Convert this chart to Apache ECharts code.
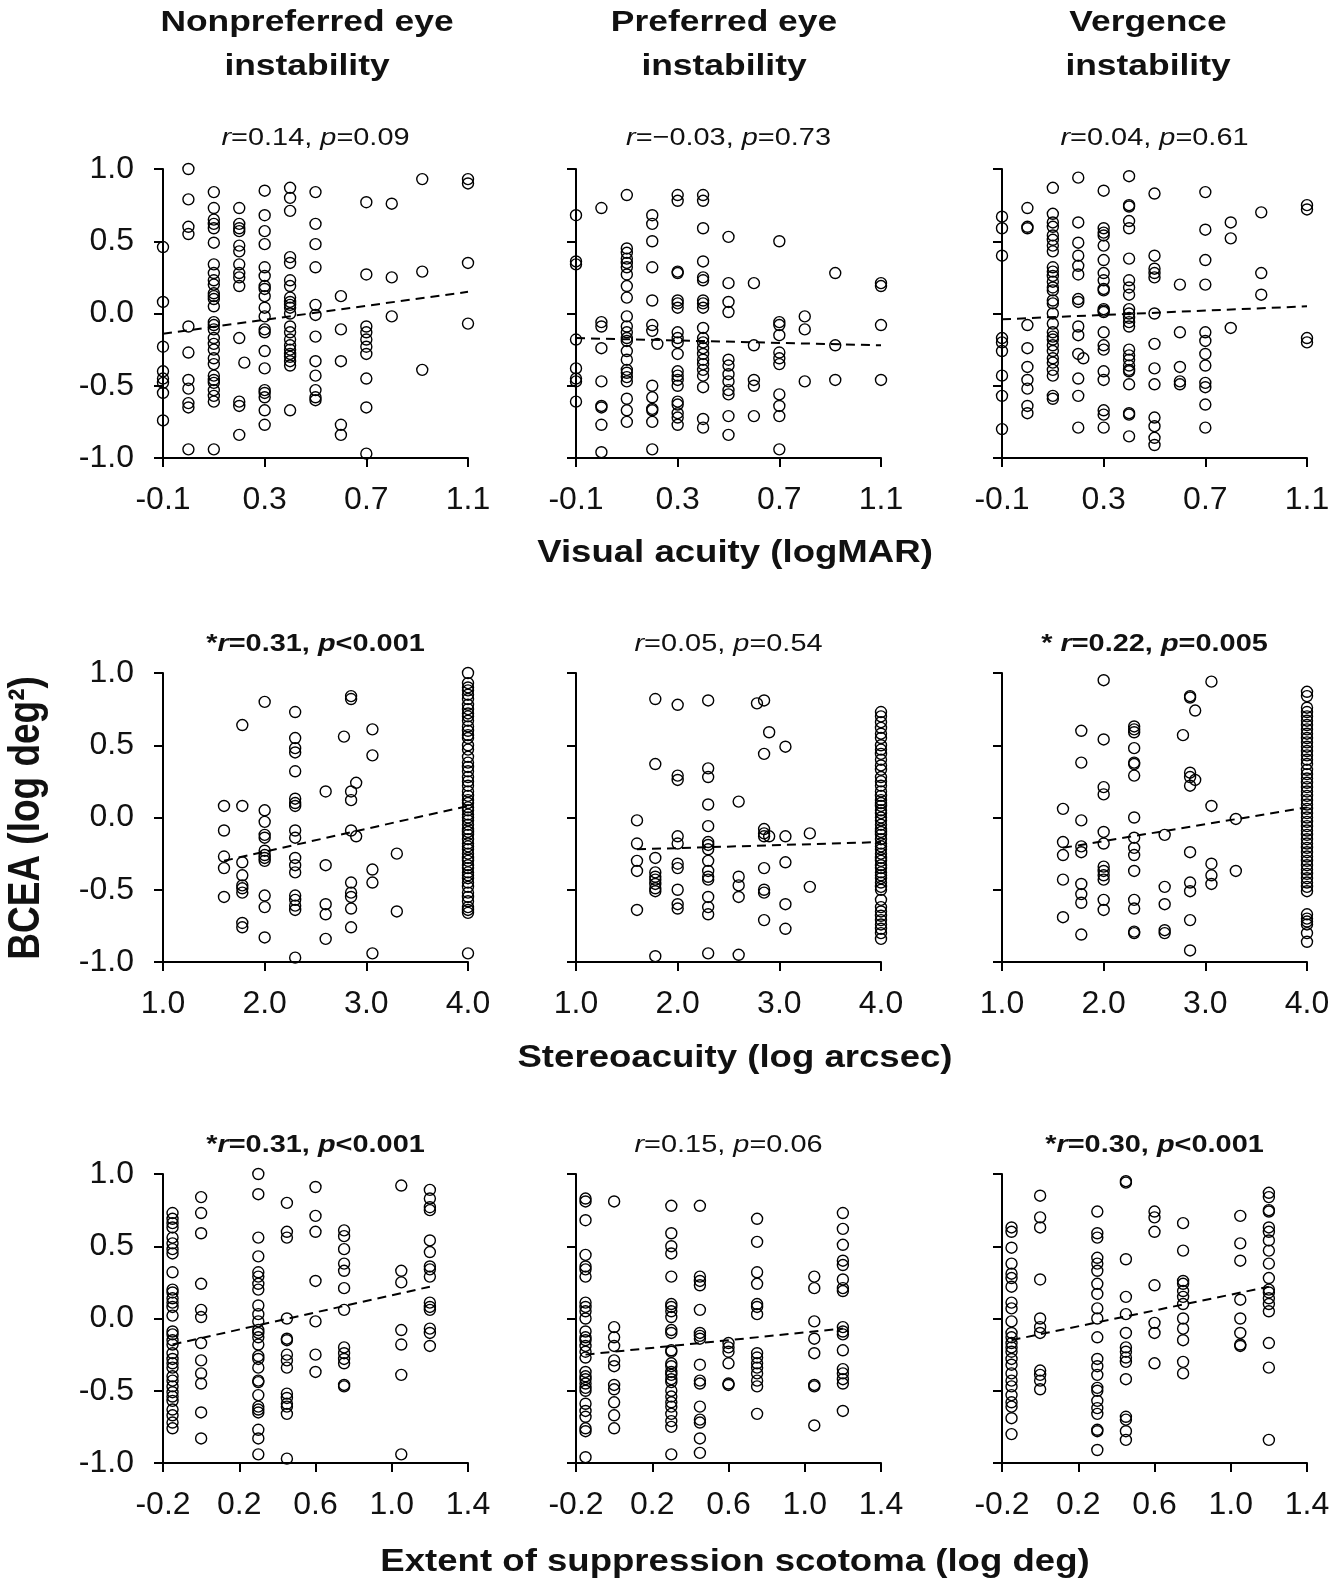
<!DOCTYPE html>
<html>
<head>
<meta charset="utf-8">
<script src="https://cdn.jsdelivr.net/npm/echarts@6/dist/echarts.min.js"></script>
<style>
html,body{margin:0;padding:0;background:#fff;}
#chart{width:1338px;height:1585px;}
</style>
</head>
<body>
<div id="chart"></div>
<script>
// ---------- tick labels ----------
const vaTicks = [-0.1, 0.3, 0.7, 1.1];
const stereoTicks = [1.0, 2.0, 3.0, 4.0];
const scotTicks = [-0.2, 0.2, 0.6, 1.0, 1.4];
const yTicks = [-1.0, -0.5, 0.0, 0.5, 1.0];

// ---------- row 1: visual acuity (logMAR) ----------
const vaCols = [-0.1, 0.0, 0.1, 0.2, 0.22, 0.3, 0.4, 0.5, 0.6, 0.7, 0.8, 0.92, 1.1];
const vaNonpref = [
  [0.46, 0.08, -0.23, -0.40, -0.45, -0.48, -0.55, -0.74],
  [1.0, 0.79, 0.60, 0.55, -0.09, -0.27, -0.46, -0.52, -0.62, -0.65, -0.94],
  [0.84, 0.73, 0.65, 0.62, 0.59, 0.49, 0.34, 0.28, 0.23, 0.20, 0.14, 0.12, 0.10, 0.05, -0.06, -0.08, -0.11, -0.17, -0.21, -0.25, -0.31, -0.35, -0.43, -0.46, -0.48, -0.53, -0.57, -0.61, -0.94],
  [0.73, 0.62, 0.59, 0.57, 0.47, 0.43, 0.34, 0.28, 0.25, 0.19, -0.17, -0.61, -0.64, -0.84],
  [-0.34],
  [0.85, 0.68, 0.57, 0.48, 0.32, 0.26, 0.19, 0.17, 0.12, 0.04, -0.02, -0.11, -0.13, -0.26, -0.38, -0.53, -0.55, -0.58, -0.67, -0.77],
  [0.87, 0.80, 0.71, 0.39, 0.35, 0.23, 0.19, 0.11, 0.08, 0.06, 0.04, 0.00, -0.09, -0.13, -0.18, -0.22, -0.25, -0.28, -0.30, -0.33, -0.36, -0.67],
  [0.84, 0.62, 0.48, 0.32, 0.06, -0.01, -0.16, -0.33, -0.43, -0.53, -0.58, -0.60],
  [0.12, -0.11, -0.33, -0.77, -0.84],
  [0.77, 0.27, -0.09, -0.13, -0.18, -0.23, -0.28, -0.45, -0.65, -0.97],
  [0.76, 0.25, -0.02],
  [0.93, 0.29, -0.39],
  [0.93, 0.90, 0.35, -0.07]
];
const vaPref = [
  [0.68, 0.36, 0.34, -0.18, -0.38, -0.45, -0.47, -0.61],
  [0.73, -0.06, -0.09, -0.24, -0.47, -0.64, -0.65, -0.77, -0.96],
  [0.82, 0.45, 0.42, 0.38, 0.35, 0.32, 0.27, 0.19, 0.11, -0.02, -0.09, -0.13, -0.17, -0.19, -0.26, -0.32, -0.39, -0.41, -0.44, -0.47, -0.59, -0.67, -0.75],
  [0.68, 0.62, 0.50, 0.32, 0.09, -0.08, -0.12, -0.50, -0.58, -0.66, -0.67, -0.75, -0.94],
  [-0.21],
  [0.82, 0.78, 0.29, 0.28, 0.09, 0.07, 0.04, -0.13, -0.17, -0.20, -0.28, -0.40, -0.43, -0.46, -0.50, -0.61, -0.63, -0.69, -0.72, -0.77],
  [0.82, 0.78, 0.59, 0.36, 0.25, 0.23, 0.09, 0.07, 0.04, -0.10, -0.17, -0.20, -0.24, -0.28, -0.32, -0.35, -0.39, -0.43, -0.51, -0.73, -0.79],
  [0.53, 0.21, 0.08, 0.01, -0.32, -0.36, -0.42, -0.47, -0.53, -0.56, -0.71, -0.84],
  [0.21, -0.22, -0.46, -0.50, -0.71],
  [0.50, -0.06, -0.08, -0.15, -0.27, -0.31, -0.35, -0.56, -0.64, -0.71, -0.94],
  [-0.02, -0.11, -0.47],
  [0.28, -0.22, -0.46],
  [0.21, 0.19, -0.08, -0.46]
];
const vaVerg = [
  [0.67, 0.59, 0.40, -0.17, -0.20, -0.26, -0.43, -0.57, -0.80],
  [0.73, 0.60, 0.59, -0.08, -0.24, -0.37, -0.46, -0.52, -0.64, -0.69],
  [0.87, 0.69, 0.63, 0.60, 0.54, 0.51, 0.47, 0.43, 0.32, 0.29, 0.26, 0.22, 0.18, 0.16, 0.09, 0.07, 0.00, -0.07, -0.13, -0.16, -0.18, -0.22, -0.26, -0.31, -0.34, -0.39, -0.43, -0.57, -0.59],
  [0.94, 0.63, 0.49, 0.40, 0.33, 0.27, 0.10, 0.08, -0.09, -0.15, -0.28, -0.45, -0.57, -0.79],
  [-0.31],
  [0.85, 0.59, 0.56, 0.54, 0.47, 0.37, 0.28, 0.23, 0.17, 0.16, 0.03, 0.02, 0.01, -0.13, -0.22, -0.25, -0.40, -0.46, -0.67, -0.70, -0.79],
  [0.95, 0.75, 0.74, 0.64, 0.59, 0.38, 0.23, 0.18, 0.13, 0.03, 0.00, -0.03, -0.06, -0.09, -0.25, -0.29, -0.32, -0.36, -0.39, -0.40, -0.49, -0.69, -0.70, -0.85],
  [0.83, 0.40, 0.31, 0.28, 0.25, 0.00, -0.21, -0.38, -0.49, -0.72, -0.78, -0.86, -0.91],
  [0.20, -0.13, -0.37, -0.47, -0.49],
  [0.84, 0.58, 0.37, 0.20, -0.13, -0.19, -0.28, -0.36, -0.48, -0.51, -0.63, -0.79],
  [0.63, 0.52, -0.10],
  [0.70, 0.28, 0.13],
  [0.75, 0.72, -0.17, -0.20]
];

// ---------- row 2: stereoacuity (log arcsec) ----------
const stereoCols = [1.6, 1.78, 2.0, 2.3, 2.6, 2.78, 2.85, 2.9, 3.06, 3.3, 4.0];
const stereoNonpref = [
  [0.08, -0.09, -0.27, -0.35, -0.55],
  [0.64, 0.08, -0.31, -0.40, -0.47, -0.49, -0.52, -0.73, -0.76],
  [0.80, 0.05, -0.03, -0.12, -0.14, -0.23, -0.26, -0.28, -0.30, -0.54, -0.62, -0.83],
  [0.73, 0.55, 0.48, 0.45, 0.32, 0.13, 0.10, 0.08, -0.09, -0.14, -0.28, -0.33, -0.38, -0.54, -0.57, -0.61, -0.64, -0.97],
  [0.18, -0.33, -0.60, -0.67, -0.84],
  [0.56],
  [0.84, 0.82, 0.18, 0.12, -0.09, -0.45, -0.52, -0.55, -0.63, -0.76],
  [0.24, -0.13],
  [0.61, 0.43, -0.36, -0.45, -0.94],
  [-0.25, -0.65],
  [1.0, 0.93, 0.90, 0.88, 0.85, 0.82, 0.78, 0.75, 0.72, 0.70, 0.67, 0.63, 0.60, 0.57, 0.55, 0.50, 0.47, 0.42, 0.38, 0.35, 0.32, 0.28, 0.25, 0.22, 0.18, 0.15, 0.12, 0.10, 0.07, 0.05, 0.02, 0.0, -0.02, -0.05, -0.08, -0.10, -0.12, -0.15, -0.18, -0.20, -0.22, -0.25, -0.28, -0.30, -0.33, -0.35, -0.38, -0.40, -0.42, -0.45, -0.48, -0.52, -0.55, -0.58, -0.62, -0.64, -0.66, -0.94]
];
const stereoPref = [
  [-0.02, -0.18, -0.30, -0.37, -0.64],
  [0.82, 0.37, -0.28, -0.38, -0.41, -0.43, -0.46, -0.49, -0.51, -0.96],
  [0.78, 0.29, 0.26, -0.13, -0.18, -0.32, -0.35, -0.50, -0.60, -0.63],
  [0.81, 0.34, 0.28, 0.09, -0.06, -0.17, -0.19, -0.22, -0.30, -0.37, -0.41, -0.43, -0.55, -0.62, -0.67, -0.94],
  [0.11, -0.41, -0.47, -0.55, -0.95],
  [0.79],
  [0.81, 0.44, -0.08, -0.11, -0.13, -0.35, -0.50, -0.52, -0.71],
  [0.59, -0.13],
  [0.49, -0.13, -0.31, -0.60, -0.77],
  [-0.11, -0.48],
  [0.73, 0.70, 0.66, 0.62, 0.58, 0.55, 0.50, 0.47, 0.44, 0.40, 0.36, 0.33, 0.28, 0.25, 0.22, 0.18, 0.15, 0.12, 0.10, 0.08, 0.05, 0.03, 0.0, -0.02, -0.05, -0.08, -0.10, -0.12, -0.15, -0.18, -0.20, -0.22, -0.25, -0.28, -0.30, -0.33, -0.35, -0.38, -0.40, -0.42, -0.45, -0.48, -0.50, -0.57, -0.62, -0.65, -0.68, -0.71, -0.74, -0.77, -0.80, -0.84]
];
const stereoVerg = [
  [0.06, -0.17, -0.26, -0.43, -0.69],
  [0.60, 0.38, -0.02, -0.20, -0.24, -0.46, -0.53, -0.59, -0.81],
  [0.95, 0.54, 0.21, 0.16, -0.10, -0.18, -0.34, -0.37, -0.40, -0.43, -0.57, -0.64],
  [0.63, 0.61, 0.59, 0.48, 0.38, 0.37, 0.29, 0.00, -0.14, -0.21, -0.26, -0.37, -0.57, -0.63, -0.79, -0.80],
  [-0.12, -0.48, -0.60, -0.78, -0.80],
  [0.57],
  [0.84, 0.83, 0.31, 0.28, 0.22, -0.24, -0.45, -0.51, -0.71, -0.92],
  [0.74, 0.26],
  [0.94, 0.08, -0.32, -0.40, -0.46],
  [-0.01, -0.37],
  [0.87, 0.84, 0.76, 0.73, 0.70, 0.67, 0.64, 0.61, 0.58, 0.55, 0.52, 0.49, 0.46, 0.43, 0.40, 0.37, 0.33, 0.30, 0.27, 0.24, 0.21, 0.18, 0.15, 0.12, 0.09, 0.06, 0.03, 0.0, -0.03, -0.06, -0.09, -0.12, -0.15, -0.18, -0.21, -0.24, -0.27, -0.30, -0.33, -0.36, -0.39, -0.42, -0.45, -0.48, -0.51, -0.67, -0.70, -0.72, -0.74, -0.80, -0.86]
];

// ---------- row 3: extent of suppression scotoma (log deg) ----------
const scotCols = [-0.15, 0.0, 0.3, 0.45, 0.6, 0.75, 1.05, 1.2];
const scotNonpref = [
  [0.73, 0.69, 0.66, 0.63, 0.56, 0.52, 0.48, 0.45, 0.32, 0.20, 0.18, 0.14, 0.11, 0.08, 0.02, -0.09, -0.11, -0.15, -0.18, -0.24, -0.28, -0.31, -0.34, -0.40, -0.43, -0.47, -0.51, -0.54, -0.57, -0.63, -0.67, -0.72, -0.76],
  [0.84, 0.73, 0.59, 0.24, 0.06, 0.01, -0.17, -0.29, -0.38, -0.45, -0.65, -0.83],
  [1.0, 0.86, 0.56, 0.43, 0.32, 0.29, 0.24, 0.20, 0.09, 0.03, -0.02, -0.08, -0.10, -0.13, -0.18, -0.26, -0.28, -0.34, -0.43, -0.44, -0.53, -0.61, -0.63, -0.65, -0.77, -0.83, -0.94],
  [0.80, 0.60, 0.56, 0.0, -0.14, -0.15, -0.25, -0.29, -0.34, -0.52, -0.55, -0.59, -0.61, -0.66, -0.97],
  [0.91, 0.71, 0.60, 0.26, -0.02, -0.25, -0.37],
  [0.61, 0.57, 0.48, 0.38, 0.33, 0.21, 0.06, -0.20, -0.24, -0.28, -0.31, -0.46, -0.47],
  [0.92, 0.33, 0.25, -0.08, -0.18, -0.39, -0.94],
  [0.89, 0.83, 0.77, 0.75, 0.54, 0.46, 0.36, 0.34, 0.29, 0.11, 0.08, 0.06, -0.07, -0.10, -0.19]
];
const scotPref = [
  [0.83, 0.81, 0.68, 0.44, 0.36, 0.34, 0.29, 0.11, 0.08, 0.05, 0.00, -0.09, -0.13, -0.15, -0.19, -0.23, -0.27, -0.37, -0.40, -0.42, -0.45, -0.48, -0.50, -0.59, -0.64, -0.68, -0.76, -0.78, -0.96],
  [0.81, -0.06, -0.13, -0.19, -0.29, -0.33, -0.46, -0.49, -0.58, -0.67, -0.76],
  [0.78, 0.59, 0.50, 0.45, 0.29, 0.10, 0.08, 0.05, 0.01, -0.08, -0.10, -0.22, -0.23, -0.31, -0.33, -0.37, -0.39, -0.42, -0.44, -0.50, -0.54, -0.58, -0.61, -0.66, -0.71, -0.75, -0.94],
  [0.78, 0.29, 0.26, 0.23, 0.06, -0.10, -0.12, -0.14, -0.32, -0.43, -0.45, -0.61, -0.70, -0.72, -0.83, -0.93],
  [-0.17, -0.20, -0.23, -0.31, -0.45, -0.46],
  [0.69, 0.53, 0.32, 0.24, 0.10, 0.08, 0.03, -0.24, -0.27, -0.31, -0.34, -0.38, -0.43, -0.47, -0.66],
  [0.29, 0.21, -0.02, -0.14, -0.24, -0.46, -0.47, -0.74],
  [0.73, 0.62, 0.51, 0.40, 0.37, 0.27, 0.21, 0.19, -0.06, -0.09, -0.11, -0.22, -0.35, -0.38, -0.42, -0.45, -0.64]
];
const scotVerg = [
  [0.63, 0.60, 0.49, 0.38, 0.31, 0.28, 0.22, 0.11, 0.07, -0.02, -0.10, -0.13, -0.17, -0.20, -0.23, -0.28, -0.32, -0.38, -0.43, -0.47, -0.53, -0.58, -0.61, -0.69, -0.80],
  [0.85, 0.70, 0.63, 0.27, 0.0, -0.06, -0.10, -0.36, -0.39, -0.43, -0.49],
  [0.74, 0.59, 0.56, 0.42, 0.38, 0.33, 0.24, 0.17, 0.07, 0.0, -0.13, -0.28, -0.33, -0.39, -0.48, -0.50, -0.57, -0.62, -0.66, -0.77, -0.78, -0.91],
  [0.95, 0.94, 0.41, 0.15, 0.03, -0.10, -0.20, -0.23, -0.27, -0.30, -0.42, -0.68, -0.70, -0.78, -0.84],
  [0.74, 0.70, 0.60, 0.23, -0.03, -0.10, -0.31],
  [0.66, 0.47, 0.26, 0.24, 0.19, 0.15, 0.10, 0.0, -0.07, -0.15, -0.30, -0.38],
  [0.71, 0.52, 0.40, 0.13, 0.0, -0.10, -0.18, -0.19],
  [0.87, 0.84, 0.75, 0.74, 0.63, 0.60, 0.54, 0.47, 0.38, 0.28, 0.20, 0.18, 0.14, 0.10, 0.05, -0.17, -0.34, -0.84]
];

// ---------- regression lines (end points) ----------
const trendVaNonpref = [[-0.1, -0.14], [1.1, 0.15]];
const trendVaPref = [[-0.1, -0.17], [1.1, -0.22]];
const trendVaVerg = [[-0.1, -0.04], [1.1, 0.05]];
const trendStereoNonpref = [[1.6, -0.30], [4.0, 0.08]];
const trendStereoPref = [[1.6, -0.22], [4.0, -0.17]];
const trendStereoVerg = [[1.6, -0.21], [4.0, 0.07]];
const trendScotNonpref = [[-0.15, -0.18], [1.2, 0.22]];
const trendScotPref = [[-0.15, -0.25], [1.2, -0.07]];
const trendScotVerg = [[-0.15, -0.15], [1.2, 0.22]];

// ---------- texts ----------
const colTitles = ['Nonpreferred eye\ninstability', 'Preferred eye\ninstability', 'Vergence\ninstability'];
const rowTitles = ['Visual acuity (logMAR)', 'Stereoacuity (log arcsec)', 'Extent of suppression scotoma (log deg)'];
const yTitle = 'BCEA (log deg\u00B2)';
const statTexts = [
  ['{i|r}{n|=0.14, }{i|p}{n|=0.09}', '{i|r}{n|=\u22120.03, }{i|p}{n|=0.73}', '{i|r}{n|=0.04, }{i|p}{n|=0.61}'],
  ['{b|*}{bi|r}{b|=0.31, }{bi|p}{b|<0.001}', '{i|r}{n|=0.05, }{i|p}{n|=0.54}', '{b|* }{bi|r}{b|=0.22, }{bi|p}{b|=0.005}'],
  ['{b|*}{bi|r}{b|=0.31, }{bi|p}{b|<0.001}', '{i|r}{n|=0.15, }{i|p}{n|=0.06}', '{b|*}{bi|r}{b|=0.30, }{bi|p}{b|<0.001}']
];

// ---------- layout ----------
const FONT = '"Liberation Sans", Arial, Helvetica, sans-serif';
const STRETCH = 1.18;
const gridLeft = [163, 576, 1002];
const gridTop = [169, 673, 1174];
const gridW = 305, gridH = 289;
const statY = [138, 644, 1145];
const rowTitleY = [553, 1058, 1562];
const colTitleX = [307, 724, 1148];
const STAT_SIZE = 24.5;

const rows = [
  {cols: vaCols, ticks: vaTicks, min: -0.1, max: 1.1, panels: [vaNonpref, vaPref, vaVerg], trends: [trendVaNonpref, trendVaPref, trendVaVerg]},
  {cols: stereoCols, ticks: stereoTicks, min: 1.0, max: 4.0, panels: [stereoNonpref, stereoPref, stereoVerg], trends: [trendStereoNonpref, trendStereoPref, trendStereoVerg]},
  {cols: scotCols, ticks: scotTicks, min: -0.2, max: 1.4, panels: [scotNonpref, scotPref, scotVerg], trends: [trendScotNonpref, trendScotPref, trendScotVerg]}
];

const grid = [], xAxis = [], yAxis = [], series = [], graphic = [];
const richBase = {fontFamily: FONT, fontSize: STAT_SIZE, fill: '#111'};
const rich = {
  n: Object.assign({}, richBase, {fontWeight: 'normal', fontStyle: 'normal'}),
  i: Object.assign({}, richBase, {fontWeight: 'normal', fontStyle: 'italic'}),
  b: Object.assign({}, richBase, {fontWeight: 'bold', fontStyle: 'normal'}),
  bi: Object.assign({}, richBase, {fontWeight: 'bold', fontStyle: 'italic'})
};
let idx = 0;
rows.forEach((row, r) => {
  row.panels.forEach((panel, c) => {
    grid.push({left: gridLeft[c], top: gridTop[r], width: gridW, height: gridH, containLabel: false});
    xAxis.push({
      type: 'value', gridIndex: idx, min: row.min, max: row.max,
      splitLine: {show: false},
      axisLine: {show: true, onZero: false, lineStyle: {color: '#000', width: 2}},
      axisTick: {show: true, inside: false, length: 9, lineStyle: {color: '#000', width: 2}, customValues: row.ticks},
      axisLabel: {show: true, margin: 26, fontSize: 32, color: '#111', fontFamily: FONT,
        customValues: row.ticks, formatter: v => Number(v).toFixed(1)}
    });
    yAxis.push({
      type: 'value', gridIndex: idx, min: -1, max: 1, interval: 0.5,
      splitLine: {show: false},
      axisLine: {show: true, onZero: false, lineStyle: {color: '#000', width: 2}},
      axisTick: {show: true, inside: false, length: 9, lineStyle: {color: '#000', width: 2}},
      axisLabel: {show: c === 0, margin: 29, fontSize: 32, color: '#111', fontFamily: FONT,
        formatter: v => Number(v).toFixed(1)}
    });
    const pts = [];
    row.cols.forEach((x, k) => { (panel[k] || []).forEach(y => pts.push([x, y])); });
    series.push({
      type: 'scatter', xAxisIndex: idx, yAxisIndex: idx, data: pts,
      symbol: 'circle', symbolSize: 11,
      itemStyle: {color: 'rgba(255,255,255,0)', borderColor: '#000', borderWidth: 1.4, opacity: 1},
      emphasis: {disabled: true}, z: 2
    });
    series.push({
      type: 'line', xAxisIndex: idx, yAxisIndex: idx, data: row.trends[c],
      symbol: 'none', silent: true, z: 3,
      lineStyle: {color: '#000', width: 2, type: [9, 6]}
    });
    graphic.push({
      type: 'text', x: gridLeft[c] + gridW / 2, y: statY[r], scaleX: STRETCH, silent: true,
      style: {text: statTexts[r][c], rich: rich, fontFamily: FONT, fontSize: STAT_SIZE, fill: '#111',
        align: 'center', verticalAlign: 'middle', textAlign: 'center', textVerticalAlign: 'middle'}
    });
    idx++;
  });
});

colTitles.forEach((t, c) => {
  graphic.push({type: 'text', x: colTitleX[c], y: 45, scaleX: STRETCH, silent: true,
    style: {text: t, font: 'bold 30px ' + FONT, fill: '#111', lineHeight: 44,
      align: 'center', verticalAlign: 'middle', textAlign: 'center', textVerticalAlign: 'middle'}});
});
rowTitles.forEach((t, r) => {
  graphic.push({type: 'text', x: 735, y: rowTitleY[r], scaleX: STRETCH, silent: true,
    style: {text: t, font: 'bold 31px ' + FONT, fill: '#111',
      align: 'center', verticalAlign: 'middle', textAlign: 'center', textVerticalAlign: 'middle'}});
});
graphic.push({
  type: 'text', x: 27, y: 818, rotation: Math.PI / 2, scaleY: STRETCH, silent: true,
  style: {text: yTitle, font: 'bold 37px ' + FONT, fill: '#111',
    align: 'center', verticalAlign: 'middle', textAlign: 'center', textVerticalAlign: 'middle'}
});

const chart = echarts.init(document.getElementById('chart'), null, {renderer: 'canvas'});
chart.setOption({
  animation: false,
  backgroundColor: '#fff',
  grid, xAxis, yAxis, series, graphic
});
</script>
</body>
</html>
